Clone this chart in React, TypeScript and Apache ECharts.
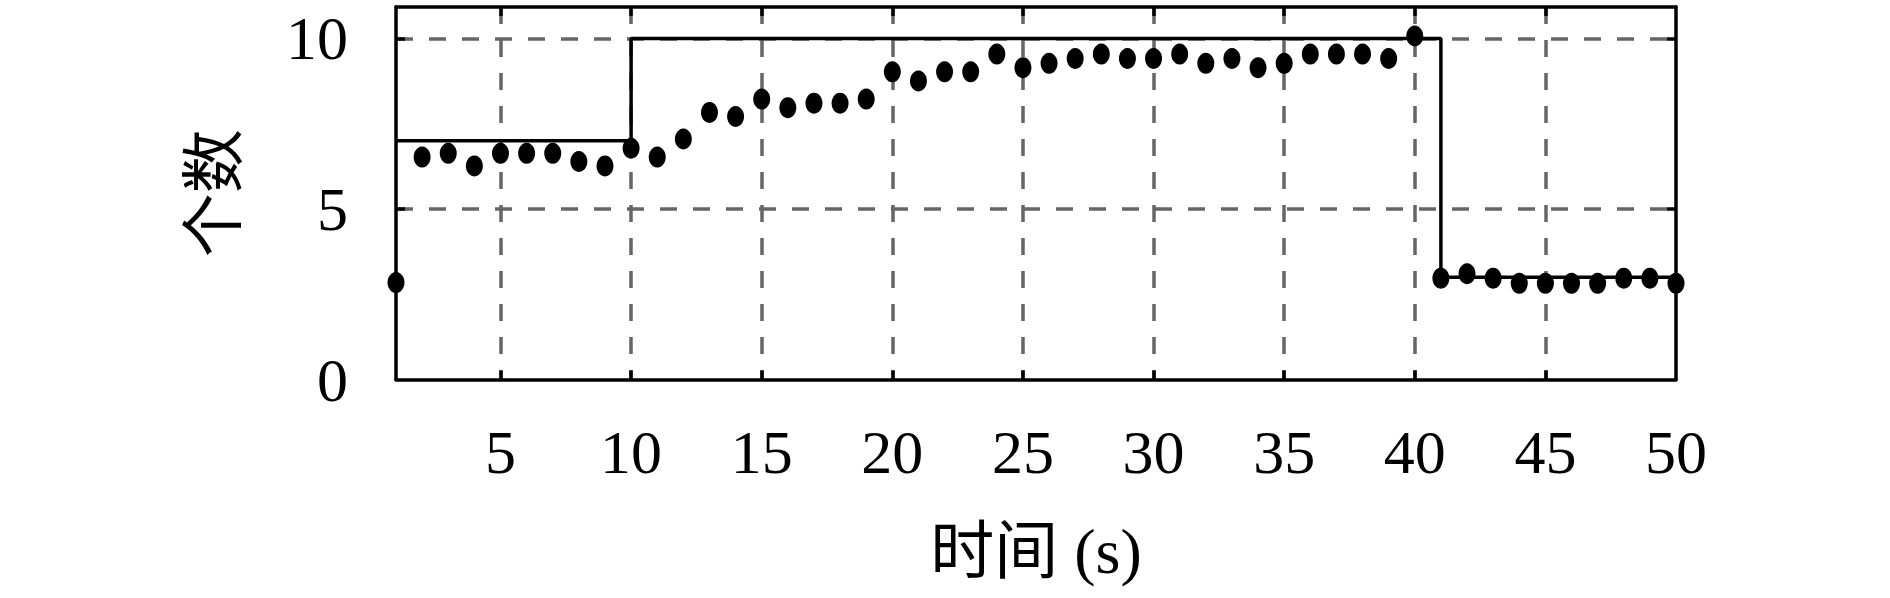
import React, { useEffect, useRef } from "react";
import * as echarts from "echarts";

const xTickValues = [5, 10, 15, 20, 25, 30, 35, 40, 45];
const xLabelValues = [5, 10, 15, 20, 25, 30, 35, 40, 45, 50];
const yTickValues = [5, 10];
const yLabelValues = [0, 5, 10];

const times = [
  1, 2, 3, 4, 5, 6, 7, 8, 9, 10, 11, 12, 13, 14, 15, 16, 17, 18, 19, 20, 21, 22, 23, 24, 25,
  26, 27, 28, 29, 30, 31, 32, 33, 34, 35, 36, 37, 38, 39, 40, 41, 42, 43, 44, 45, 46, 47, 48, 49, 50,
];
const counts = [
  2.84, 6.52, 6.63, 6.26, 6.63, 6.63, 6.63, 6.39, 6.26, 6.78,
  6.52, 7.05, 7.83, 7.71, 8.22, 7.97, 8.1, 8.1, 8.22, 9.02,
  8.75, 9.02, 9.02, 9.54, 9.14, 9.27, 9.41, 9.54, 9.41, 9.41,
  9.54, 9.27, 9.41, 9.14, 9.27, 9.54, 9.54, 9.54, 9.41, 10.07,
  2.97, 3.1, 2.97, 2.82, 2.82, 2.82, 2.82, 2.97, 2.97, 2.82,
];

const stepX = [1, 10, 10, 41, 41, 50];
const stepY = [7, 7, 10, 10, 3, 3];

const serif = "'Liberation Serif', 'Noto Sans CJK SC', serif";

export default function App() {
  const ref = useRef<HTMLDivElement>(null);

  useEffect(() => {
    if (!ref.current) return;
    const chart = echarts.init(ref.current, undefined, { renderer: "svg" });

    const gridLine = { show: true, lineStyle: { color: "#666666", width: 3.5, type: [17, 16] as any } };
    const axisLine = { show: true, onZero: false, lineStyle: { color: "#000", width: 3.5 } };
    const tick = (vals: number[]) => ({
      show: true,
      inside: true,
      length: 9,
      lineStyle: { color: "#000", width: 3.5 },
      customValues: vals,
    });

    chart.setOption({
      animation: false,
      backgroundColor: "#fff",
      grid: { left: 396, right: 214, top: 7, bottom: 218.5, containLabel: false },
      xAxis: [
        {
          type: "value",
          position: "bottom",
          min: 1,
          max: 50,
          axisLine,
          axisTick: tick(xTickValues),
          axisLabel: { show: true, customValues: xLabelValues, margin: 41, fontSize: 62, fontFamily: serif, color: "#000" },
          splitLine: gridLine,
          name: "时间 (s)",
          nameLocation: "middle",
          nameGap: 140,
          nameTextStyle: { fontSize: 64, fontFamily: serif, color: "#000" },
        },
        {
          type: "value",
          position: "top",
          min: 1,
          max: 50,
          axisLine,
          axisTick: tick(xTickValues),
          axisLabel: { show: false },
          splitLine: { show: false },
        },
      ],
      yAxis: [
        {
          type: "value",
          position: "left",
          min: 0,
          max: 10.92,
          axisLine,
          axisTick: tick(yTickValues),
          axisLabel: { show: true, customValues: yLabelValues, margin: 48, fontSize: 62, fontFamily: serif, color: "#000" },
          splitLine: gridLine,
          name: "个数",
          nameLocation: "middle",
          nameGap: 150,
          nameRotate: 90,
          nameTextStyle: { fontSize: 64, fontFamily: serif, color: "#000" },
        },
        {
          type: "value",
          position: "right",
          min: 0,
          max: 10.92,
          axisLine,
          axisTick: tick(yTickValues),
          axisLabel: { show: false },
          splitLine: { show: false },
        },
      ],
      series: [
        {
          type: "line",
          data: stepX.map((x, i) => [x, stepY[i]]),
          symbol: "none",
          lineStyle: { color: "#000", width: 3.5 },
          z: 3,
        },
        {
          type: "scatter",
          data: times.map((t, i) => [t, counts[i]]),
          symbol: "circle",
          symbolSize: [17, 21],
          itemStyle: { color: "#000", opacity: 1 },
          z: 4,
        },
      ],
    });

    return () => chart.dispose();
  }, []);

  return (
    <div
      ref={ref}
      style={{ position: "absolute", left: 0, top: 0, width: 1890, height: 598 }}
    />
  );
}
